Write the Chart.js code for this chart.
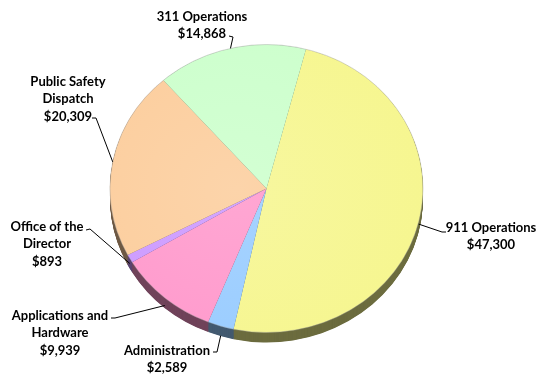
<!DOCTYPE html>
<html>
<head>
<meta charset="utf-8">
<script src="https://cdn.jsdelivr.net/npm/chart.js@4/dist/chart.umd.min.js"></script>
<style>
  html, body { margin: 0; padding: 0; background: #fff; }
  #wrap { width: 537px; height: 377px; position: relative; }
</style>
</head>
<body>
<div id="wrap"><canvas id="budgetPie"></canvas></div>
<script>
// Budget by division
const categories = ['911 Operations', 'Administration', 'Applications and Hardware',
                    'Office of the Director', 'Public Safety Dispatch', '311 Operations'];
const amounts = [47300, 2589, 9939, 893, 20309, 14868];
const sliceColors = ['#F6F68F', '#99CCFF', '#FF99CC', '#CC99FF', '#FCCD9C', '#CCFFCC'];
const labelLines = [['911 Operations'], ['Administration'], ['Applications and', 'Hardware'],
                    ['Office of the', 'Director'], ['Public Safety', 'Dispatch'], ['311 Operations']];

// label text spots + leader hook (x, y of first line, hook start, hook bend)
const labelSpots = [
  { x: 491, y: 228, from: [446, 232], bend: [442, 232] },
  { x: 167, y: 351, from: [213, 352], bend: [217, 352] },
  { x: 60,  y: 316, from: [111, 318], bend: [115, 318] },
  { x: 47,  y: 227, from: [86, 230],  bend: [90, 229] },
  { x: 68,  y: 82,  from: [92, 118],  bend: [96, 118] },
  { x: 202, y: 17,  from: [229, 36],  bend: [233, 37] }
];

const tilt = 0.92;   // vertical squash of the pie
const depth = 10;    // thickness of the rim

function mix(hex, target, t) {
  const n = parseInt(hex.slice(1), 16);
  const c = [(n >> 16) & 255, (n >> 8) & 255, n & 255];
  return 'rgb(' + c.map(v => Math.round(v + (target - v) * t)).join(',') + ')';
}

function sliceFill(context) {
  const chart = context.chart;
  const area = chart.chartArea;
  const base = sliceColors[context.dataIndex];
  if (!area) return base;
  const cx = (area.left + area.right) / 2, cy = (area.top + area.bottom) / 2;
  const r = Math.min(area.right - area.left, area.bottom - area.top) / 2;
  const g = chart.ctx.createRadialGradient(cx - 30, cy, 0, cx - 30, cy, r * 1.3);
  g.addColorStop(0, mix(base, 255, 0.14));
  g.addColorStop(1, base);
  return g;
}

const pie3d = {
  id: 'pie3d',
  beforeDatasetsDraw(chart) {
    const ctx = chart.ctx;
    const arcs = chart.getDatasetMeta(0).data;
    const cx = arcs[0].x, cy = arcs[0].y;
    ctx.save();
    ctx.translate(cx, cy);
    ctx.scale(1, tilt);
    ctx.translate(-cx, -cy);
    for (let d = depth; d > 0; d -= 0.5) {
      arcs.forEach((arc, i) => {
        const oy = cy + d / tilt;
        ctx.beginPath();
        ctx.moveTo(cx, oy);
        ctx.arc(cx, oy, arc.outerRadius, arc.startAngle, arc.endAngle);
        ctx.closePath();
        ctx.fillStyle = mix(sliceColors[i], 0, 0.56);
        ctx.fill();
      });
    }
  },
  afterDatasetsDraw(chart) {
    const ctx = chart.ctx;
    const arc = chart.getDatasetMeta(0).data[0];
    ctx.beginPath();
    ctx.arc(arc.x, arc.y, arc.outerRadius, 0, Math.PI * 2);
    ctx.strokeStyle = 'rgba(150,150,150,0.5)';
    ctx.lineWidth = 0.8;
    ctx.stroke();
    ctx.restore();
  },
  afterDraw(chart) {
    const ctx = chart.ctx;
    const arcs = chart.getDatasetMeta(0).data;
    ctx.save();
    ctx.font = 'bold 13px Lato';
    ctx.fillStyle = '#000';
    ctx.textAlign = 'center';
    ctx.textBaseline = 'middle';
    arcs.forEach((arc, i) => {
      const spot = labelSpots[i];
      const lines = labelLines[i].concat('$' + amounts[i].toLocaleString('en-US'));
      lines.forEach((t, k) => ctx.fillText(t, spot.x, spot.y + k * 17.3));

      const mid = (arc.startAngle + arc.endAngle) / 2;
      const ax = arc.x + Math.cos(mid) * arc.outerRadius;
      const ay = arc.y + Math.sin(mid) * arc.outerRadius * tilt + Math.max(0, Math.sin(mid)) * depth;
      ctx.beginPath();
      ctx.moveTo(spot.from[0], spot.from[1]);
      ctx.lineTo(spot.bend[0], spot.bend[1]);
      ctx.lineTo(ax, ay);
      ctx.strokeStyle = '#000';
      ctx.lineWidth = 1;
      ctx.stroke();
    });
    ctx.restore();
  }
};

const ctx = document.getElementById('budgetPie').getContext('2d');
const budgetPie = new Chart(ctx, {
  type: 'pie',
  data: {
    labels: categories,
    datasets: [{
      data: amounts,
      backgroundColor: sliceFill,
      borderWidth: 0
    }]
  },
  options: {
    responsive: true,
    maintainAspectRatio: false,
    animation: false,
    rotation: 14.6,
    layout: { padding: { left: 110, right: 114, top: 32, bottom: 32 } },
    plugins: {
      legend: { display: false },
      tooltip: { enabled: false }
    }
  },
  plugins: [pie3d]
});
</script>
</body>
</html>
